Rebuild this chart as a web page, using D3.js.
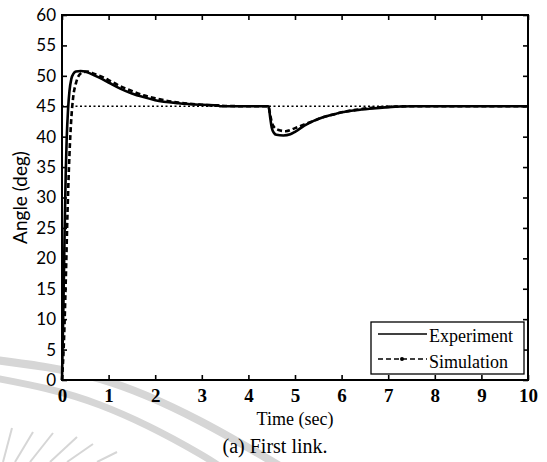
<!DOCTYPE html>
<html>
<head>
<meta charset="utf-8">
<script src="https://cdn.jsdelivr.net/npm/d3@7"></script>
<style>
  html, body { margin: 0; padding: 0; background: #ffffff; }
  svg { display: block; }
</style>
</head>
<body>
<script>
// Joint angle response of the first link: measured vs simulated
const expTime = [0, 0.03, 0.06, 0.08, 0.1, 0.13, 0.16, 0.2, 0.25, 0.3, 0.4, 0.5, 0.6, 0.8, 1.0, 1.25, 1.5, 1.75, 2.0, 2.5, 3.0, 3.35, 3.4, 4.0, 4.43, 4.47, 4.5, 4.55, 4.6, 4.75, 4.9, 5.0, 5.2, 5.4, 5.6, 5.8, 6.0, 6.3, 6.6, 7.0, 7.5, 10];
const expAngle = [0, 12, 26, 34, 39.5, 44.5, 47.5, 49.5, 50.4, 50.7, 50.8, 50.7, 50.4, 49.7, 48.9, 47.9, 47.1, 46.5, 46.0, 45.5, 45.25, 45.15, 45.0, 45.0, 45.0, 43, 41.5, 40.6, 40.3, 40.2, 40.4, 40.8, 41.8, 42.6, 43.2, 43.6, 44.0, 44.35, 44.6, 44.85, 45.0, 45.0];

const simTime = [0, 0.04, 0.08, 0.12, 0.16, 0.2, 0.24, 0.3, 0.35, 0.45, 0.55, 0.7, 0.9, 1.0, 1.25, 1.5, 1.75, 2.0, 2.5, 3.0, 3.5, 4.0, 4.43, 4.47, 4.5, 4.55, 4.65, 4.8, 5.0, 5.2, 5.4, 5.6, 5.8, 6.0, 6.3, 6.6, 7.0, 7.5, 10];
const simAngle = [0, 6, 16, 28, 37, 43, 46.5, 48.8, 49.9, 50.6, 50.7, 50.3, 49.7, 49.3, 48.3, 47.5, 46.8, 46.3, 45.6, 45.25, 45.05, 45.0, 45.0, 43.5, 42.4, 41.6, 41.1, 40.9, 41.4, 42.0, 42.6, 43.2, 43.6, 44.0, 44.4, 44.7, 44.9, 45.0, 45.0];

const referenceAngle = 45;
const xTicks = [0, 1, 2, 3, 4, 5, 6, 7, 8, 9, 10];
const yTicks = [0, 5, 10, 15, 20, 25, 30, 35, 40, 45, 50, 55, 60];
const seriesNames = ["Experiment", "Simulation"];
const xLabel = "Time (sec)";
const yLabel = "Angle (deg)";
const caption = "(a) First link.";

const W = 547, H = 462;
const plot = { left: 62, right: 528, top: 15, bottom: 380 };

const svg = d3.select("body").append("svg")
  .attr("width", W).attr("height", H);

// faint background watermark
const wm = svg.append("g").attr("fill", "none").attr("stroke", "#d6d6d6");
const arcLine = d3.line().curve(d3.curveNatural);
wm.append("path").attr("stroke-width", 8)
  .attr("d", arcLine([[-5, 360], [100, 379], [200, 421], [290, 472]]));
wm.append("path").attr("stroke-width", 7)
  .attr("d", arcLine([[-5, 378], [100, 405], [200, 454], [225, 472]]));
[[[3, 462], [12, 428]], [[15, 462], [33, 432]], [[30, 462], [53, 433]],
 [[50, 462], [77, 437]], [[67, 462], [93, 444]], [[97, 462], [117, 452]]]
  .forEach(s => wm.append("path").attr("stroke-width", 2).attr("d", d3.line()(s)));

const x = d3.scaleLinear().domain([0, 10]).range([plot.left, plot.right]);
const y = d3.scaleLinear().domain([0, 60]).range([plot.bottom, plot.top]);

// plot interior
svg.append("rect")
  .attr("x", plot.left).attr("y", plot.top)
  .attr("width", plot.right - plot.left).attr("height", plot.bottom - plot.top)
  .attr("fill", "#ffffff");

// reference (setpoint) line
svg.append("line")
  .attr("x1", x(0)).attr("x2", x(10))
  .attr("y1", y(referenceAngle)).attr("y2", y(referenceAngle))
  .attr("stroke", "#000").attr("stroke-width", 1.3)
  .attr("stroke-dasharray", "2,2.5");

const line = d3.line()
  .x(d => x(d[0])).y(d => y(d[1]))
  .curve(d3.curveMonotoneX);

const expData = expTime.map((t, i) => [t, expAngle[i]]);
const simData = simTime.map((t, i) => [t, simAngle[i]]);

svg.append("path").datum(simData)
  .attr("d", line).attr("fill", "none")
  .attr("stroke", "#000").attr("stroke-width", 2.6)
  .attr("stroke-dasharray", "5,3");

svg.append("path").datum(expData)
  .attr("d", line).attr("fill", "none")
  .attr("stroke", "#000").attr("stroke-width", 2.6);

// axes with inward ticks on all four sides
const serif = "'Liberation Serif', 'Times New Roman', serif";
const sans = "Lato, 'Open Sans', sans-serif";

const gx = svg.append("g").attr("transform", `translate(0,${plot.bottom})`)
  .call(d3.axisBottom(x).tickValues(xTicks).tickSize(-5).tickSizeOuter(0).tickPadding(9).tickFormat(d3.format("d")));
gx.selectAll("text").attr("font-family", serif).attr("font-size", 19).attr("font-weight", "bold").attr("fill", "#000");

const gy = svg.append("g").attr("transform", `translate(${plot.left},0)`)
  .call(d3.axisLeft(y).tickValues(yTicks).tickSize(-5).tickSizeOuter(0).tickPadding(6).tickFormat(d3.format("d")));
gy.selectAll("text").attr("font-family", sans).attr("font-size", 17).attr("fill", "#000");

const gt = svg.append("g").attr("transform", `translate(0,${plot.top})`)
  .call(d3.axisTop(x).tickValues(xTicks).tickSize(-5).tickSizeOuter(0).tickFormat(""));
const gr = svg.append("g").attr("transform", `translate(${plot.right},0)`)
  .call(d3.axisRight(y).tickValues(yTicks).tickSize(-5).tickSizeOuter(0).tickFormat(""));

[gx, gy, gt, gr].forEach(g => {
  g.select(".domain").remove();
  g.selectAll(".tick line").attr("stroke", "#000").attr("stroke-width", 1.6);
});

svg.append("rect")
  .attr("x", plot.left).attr("y", plot.top)
  .attr("width", plot.right - plot.left).attr("height", plot.bottom - plot.top)
  .attr("fill", "none").attr("stroke", "#000").attr("stroke-width", 2);

// axis titles and caption
svg.append("text")
  .attr("x", (plot.left + plot.right) / 2).attr("y", 425)
  .attr("text-anchor", "middle")
  .attr("font-family", serif).attr("font-size", 18)
  .text(xLabel);

svg.append("text")
  .attr("transform", `translate(27,${(plot.top + plot.bottom) / 2}) rotate(-90)`)
  .attr("text-anchor", "middle")
  .attr("font-family", sans).attr("font-size", 19)
  .text(yLabel);

svg.append("text")
  .attr("x", 275).attr("y", 453)
  .attr("text-anchor", "middle")
  .attr("font-family", serif).attr("font-size", 20)
  .text(caption);

// legend
const lg = svg.append("g");
lg.append("rect")
  .attr("x", 371).attr("y", 322).attr("width", 153).attr("height", 52)
  .attr("fill", "#fff").attr("stroke", "#000").attr("stroke-width", 1.3);

const rows = [{ y: 334, ty: 342, dash: null }, { y: 359, ty: 368, dash: "5,3" }];
rows.forEach((r, i) => {
  const l = lg.append("line")
    .attr("x1", 378).attr("x2", 427).attr("y1", r.y).attr("y2", r.y)
    .attr("stroke", "#000").attr("stroke-width", 1.6);
  if (r.dash) {
    l.attr("stroke-dasharray", r.dash);
    lg.append("circle").attr("cx", 402).attr("cy", r.y).attr("r", 2).attr("fill", "#000");
  }
  lg.append("text")
    .attr("x", 429).attr("y", r.ty)
    .attr("font-family", serif).attr("font-size", 18)
    .text(seriesNames[i]);
});
</script>
</body>
</html>
